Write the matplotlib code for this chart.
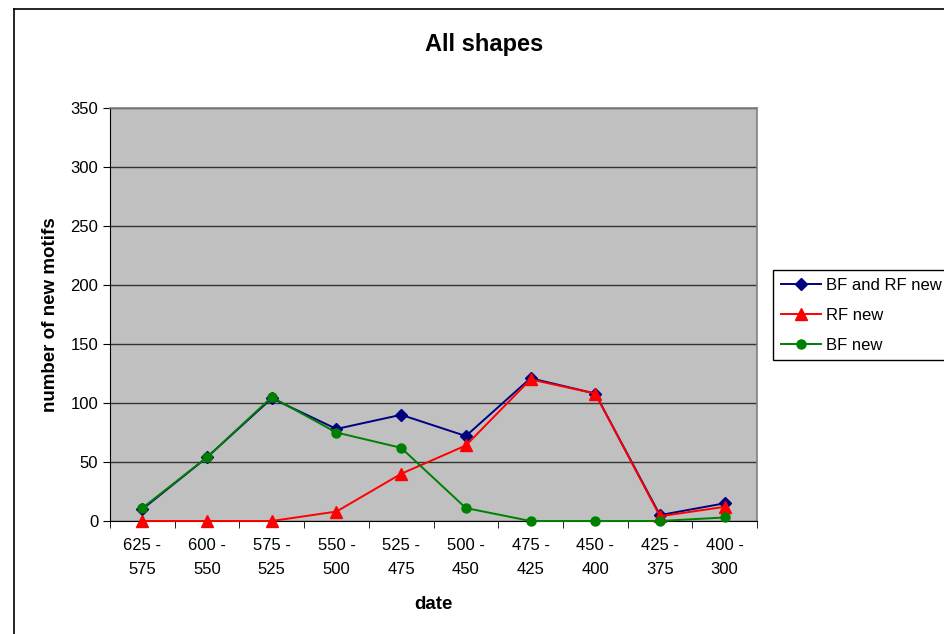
import matplotlib
matplotlib.use("Agg")
import matplotlib.pyplot as plt
from matplotlib.lines import Line2D
import numpy as np

categories = ["625 -\n575", "600 -\n550", "575 -\n525", "550 -\n500", "525 -\n475",
              "500 -\n450", "475 -\n425", "450 -\n400", "425 -\n375", "400 -\n300"]
bf_and_rf_new = [10, 54, 104, 78, 90, 72, 121, 108, 5, 15]
rf_new = [0, 0, 0, 8, 40, 64, 120, 108, 4, 12]
bf_new = [11, 54, 105, 75, 62, 11, 0, 0, 0, 3]

plt.rcParams['font.family'] = ['Liberation Sans', 'DejaVu Sans']

W, H = 944, 634
fig = plt.figure(figsize=(W / 100, H / 100), dpi=100)
fig.patch.set_facecolor('white')

# figure border (left and top visible)
fig.add_artist(Line2D([14 / W, 14 / W], [0, 1 - 9 / H], color='black', lw=1.2, transform=fig.transFigure))
fig.add_artist(Line2D([14 / W, 1], [1 - 9 / H, 1 - 9 / H], color='black', lw=1.2, transform=fig.transFigure))

ax = fig.add_axes([110 / W, 1 - 521 / H, (757 - 110) / W, (521 - 108) / H])
ax.set_facecolor('#c0c0c0')

x = np.arange(len(categories))
ax.plot(x, bf_and_rf_new, color='#000080', marker='D', markersize=6, lw=1.4, label='BF and RF new', clip_on=False, zorder=3)
ax.plot(x, rf_new, color='#ff0000', marker='^', markersize=8, lw=1.4, label='RF new', clip_on=False, zorder=4)
ax.plot(x, bf_new, color='#008000', marker='o', markersize=6.5, lw=1.4, label='BF new', clip_on=False, zorder=5)

ax.set_xlim(-0.5, len(categories) - 0.5)
ax.set_ylim(0, 350)
ax.set_yticks(np.arange(0, 351, 50))
ax.yaxis.grid(True, color='#333333', lw=1)
ax.set_axisbelow(True)

ax.set_xticks(x)
ax.set_xticklabels(categories, fontsize=12, linespacing=1.75)
ax.set_xticks(np.arange(-0.5, len(categories), 1), minor=True)
ax.tick_params(axis='x', which='major', length=0, pad=12)
ax.tick_params(axis='x', which='minor', length=5, direction='out', color='black')
ax.tick_params(axis='y', labelsize=12, length=5, direction='out', color='black')

for side in ['top', 'right']:
    ax.spines[side].set_color('#808080')
    ax.spines[side].set_linewidth(1.2)
ax.spines['left'].set_color('black')
ax.spines['bottom'].set_color('black')

ax.set_xlabel('date', fontsize=13.5, fontweight='bold', labelpad=14)
ax.set_ylabel('number of new motifs', fontsize=13.5, fontweight='bold', labelpad=8)
fig.text(484 / W, 1 - 45 / H, 'All shapes', fontsize=17, fontweight='bold', ha='center', va='center')

leg = fig.legend(loc='upper left', bbox_to_anchor=(773 / W, 1 - 270 / H), fontsize=12,
                 frameon=True, fancybox=False, edgecolor='black', framealpha=1,
                 handlelength=2.4, borderpad=0.45, labelspacing=0.9, handletextpad=0.3,
                 borderaxespad=0)
leg.get_frame().set_linewidth(1.0)

fig.savefig('out.png', dpi=100)
